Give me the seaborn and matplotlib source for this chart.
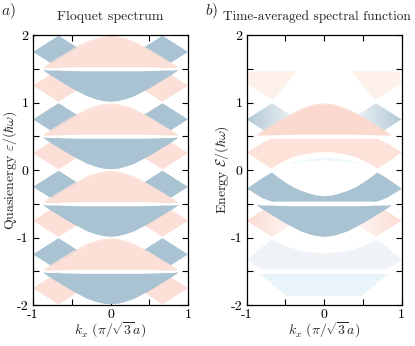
import numpy as np
import matplotlib.pyplot as plt
import seaborn as sns
from matplotlib.patches import Polygon
from matplotlib.colors import LinearSegmentedColormap

# ---- values (energies in units of hbar*omega) ----
# one Floquet replica: dome / bowl band, relative to the half-step energy
k_dome = [-0.86, -0.8, -0.7, -0.6, -0.5, -0.4, -0.3, -0.2, -0.1, 0.0,
          0.1, 0.2, 0.3, 0.4, 0.5, 0.6, 0.7, 0.8, 0.86]
dome_top = [0.02, 0.07, 0.14, 0.21, 0.28, 0.34, 0.40, 0.44, 0.47, 0.48,
            0.47, 0.44, 0.40, 0.34, 0.28, 0.21, 0.14, 0.07, 0.02]
dome_floor = [0.015, 0.018, 0.02, 0.024, 0.027, 0.03, 0.03, 0.03, 0.03, 0.03,
              0.03, 0.03, 0.03, 0.03, 0.027, 0.024, 0.02, 0.018, 0.015]
# diamond-shaped pieces near the Dirac points (left side, mirrored to the right)
diamond_k = [-1.0, -0.67, -0.34, -0.67]
diamond_e = [0.25, 0.49, 0.25, 0.01]
# half-step energies around which the replicas sit
half_steps = [1.5, 0.5, -0.5, -1.5]

# time-averaged spectral function (right panel)
k_r = [-1.0, -0.9, -0.8, -0.68, -0.6, -0.5, -0.4, -0.3, -0.2, -0.1, 0.0,
       0.1, 0.2, 0.3, 0.4, 0.5, 0.6, 0.68, 0.8, 0.9, 1.0]
cond_lo = [0.27, 0.19, 0.11, 0.03, 0.09, 0.15, 0.20, 0.23, 0.25, 0.27, 0.27,
           0.27, 0.25, 0.23, 0.20, 0.15, 0.09, 0.03, 0.11, 0.19, 0.27]
cond_hi = [0.27, 0.34, 0.41, 0.47, 0.47, 0.47, 0.47, 0.47, 0.47, 0.47, 0.47,
           0.47, 0.47, 0.47, 0.47, 0.47, 0.47, 0.47, 0.41, 0.34, 0.27]
val_hi = [-0.27, -0.19, -0.11, -0.03, -0.10, -0.18, -0.25, -0.30, -0.34, -0.37, -0.38,
          -0.37, -0.34, -0.30, -0.25, -0.18, -0.10, -0.03, -0.11, -0.19, -0.27]
val_lo = [-0.27, -0.34, -0.41, -0.46, -0.46, -0.46, -0.46, -0.46, -0.46, -0.46, -0.46,
          -0.46, -0.46, -0.46, -0.46, -0.46, -0.46, -0.46, -0.41, -0.34, -0.27]
low_hi = [-1.32, -1.23, -1.13, -1.03, -1.07, -1.12, -1.16, -1.19, -1.21, -1.22, -1.23,
          -1.22, -1.21, -1.19, -1.16, -1.12, -1.07, -1.03, -1.13, -1.23, -1.32]
low_lo = [-1.32, -1.40, -1.46, -1.47, -1.47, -1.47, -1.47, -1.47, -1.47, -1.47, -1.47,
          -1.47, -1.47, -1.47, -1.47, -1.47, -1.47, -1.47, -1.46, -1.40, -1.32]
arc_k = [-0.42, -0.3, -0.15, 0.0, 0.15, 0.3, 0.42]
arc_lo = [0.10, 0.12, 0.14, 0.15, 0.14, 0.12, 0.10]
arc_hi = [0.12, 0.15, 0.18, 0.19, 0.18, 0.15, 0.12]
trap_k = [-0.83, 0.83, 0.48, -0.48]
trap_e = [-1.54, -1.54, -1.87, -1.87]
faint_k = [-1.0, -0.97, -0.35, -0.66]
faint_e = [1.28, 1.46, 1.46, 1.03]

BLUE = '#a9c3d3'
PINK = '#fcdfd6'

sns.set_style('ticks')
plt.rcParams['font.family'] = ['cmr10', 'DejaVu Serif']
plt.rcParams['mathtext.fontset'] = 'cm'
plt.rcParams['axes.unicode_minus'] = False
plt.rcParams['axes.formatter.use_mathtext'] = True

fig = plt.figure(figsize=(4.15, 3.46), dpi=100)
ax1 = fig.add_axes([33 / 415, 41 / 346, 155 / 415, 270 / 346])
ax2 = fig.add_axes([246.5 / 415, 41 / 346, 155 / 415, 270 / 346])


def diamonds(ax, base, sign, color, alpha=1.0):
    for s in (-1, 1):
        ax.fill([s * k for k in diamond_k], [base + sign * e for e in diamond_e],
                color=color, lw=0, alpha=alpha)


def faded_diamonds(ax, base, sign, color):
    # diamonds whose weight fades from the zone edge towards the centre
    cmap = LinearSegmentedColormap.from_list('fade', ['white', color])
    for s in (-1, 1):
        xs = [s * k for k in diamond_k]
        ys = [base + sign * e for e in diamond_e]
        patch = Polygon(list(zip(xs, ys)), closed=True, transform=ax.transData)
        grad = np.linspace(0.15, 1.0, 64)[None, :] if s < 0 else np.linspace(1.0, 0.15, 64)[None, :]
        grad = grad[:, ::-1] if s < 0 else grad
        im = ax.imshow(grad if s > 0 else grad[:, ::-1], cmap=cmap, vmin=0, vmax=1,
                       extent=[min(xs), max(xs), min(ys), max(ys)], aspect='auto',
                       interpolation='bilinear', zorder=1)
        im.set_clip_path(patch)


def dome(ax, base, sign, color, alpha=1.0):
    lo = [base + sign * f for f in dome_floor]
    hi = [base + sign * t for t in dome_top]
    ax.fill_between(k_dome, lo, hi, color=color, lw=0, alpha=alpha, zorder=2)
    sns.lineplot(x=k_dome, y=hi, color=color, lw=0.6, alpha=alpha, ax=ax, zorder=2)


# ---- a) Floquet spectrum ----
for b in half_steps:
    diamonds(ax1, b, 1, BLUE)
    dome(ax1, b, 1, PINK)
    diamonds(ax1, b, -1, PINK)
    dome(ax1, b, -1, BLUE)

# ---- b) time-averaged spectral function ----
for s in (-1, 1):
    ax2.fill([s * k for k in faint_k], faint_e, color='#fdf1ea', lw=0)
faded_diamonds(ax2, 0.5, 1, '#b3c9d7')
dome(ax2, 0.5, 1, '#fbd9cf')
ax2.fill_between(k_r, cond_lo, cond_hi, color='#fde2da', lw=0, zorder=2)
ax2.fill_between(arc_k, arc_lo, arc_hi, color='#eef9fc', lw=0, zorder=2)
ax2.fill_between(k_r, val_lo, val_hi, color=BLUE, lw=0, zorder=2)
faded_diamonds(ax2, -0.5, -1, '#fcdcd3')
dome(ax2, -0.5, -1, BLUE)
ax2.fill_between(k_r, low_lo, low_hi, color='#eff2f6', lw=0, zorder=2)
ax2.fill(trap_k, trap_e, color='#e9f4fa', lw=0, zorder=2)

for ax in (ax1, ax2):
    ax.set_xlim(-1, 1)
    ax.set_ylim(-2, 2)
    ax.set_xticks([-1, -0.5, 0, 0.5, 1])
    ax.set_xticklabels(['-1', '', '0', '', '1'])
    ax.set_yticks([-2, -1.5, -1, -0.5, 0, 0.5, 1, 1.5, 2])
    ax.set_yticklabels(['-2', '', '-1', '', '0', '', '1', '', '2'])
    ax.tick_params(direction='in', top=True, right=True, length=4, width=0.8,
                   labelsize=10, pad=3, colors='black')
    for sp in ax.spines.values():
        sp.set_visible(True)
        sp.set_linewidth(0.9)
        sp.set_color('black')
        sp.set_zorder(5)
    ax.set_xlabel('')
    ax.set_ylabel('')

fig.text(110.5 / 415, 1 - 17 / 346, 'Floquet spectrum', ha='center', va='center', fontsize=10)
fig.text(223 / 415, 1 - 17 / 346, 'Time-averaged spectral function', ha='left', va='center', fontsize=9.6)
fig.text(0.002, 1 - 11 / 346, '$a)$', ha='left', va='center', fontsize=11)
fig.text(205 / 415, 1 - 11 / 346, '$b)$', ha='left', va='center', fontsize=11)
fig.text(10 / 415, 1 - 170 / 346, r'Quasienergy $\varepsilon/(\hbar\omega)$',
         rotation=90, ha='center', va='center', fontsize=10)
fig.text(222 / 415, 1 - 170 / 346, r'Energy $\mathcal{E}/(\hbar\omega)$',
         rotation=90, ha='center', va='center', fontsize=10)
fig.text(110.5 / 415, 1 - 330 / 346, r'$k_x\ (\pi/\sqrt{3}a)$', ha='center', va='center', fontsize=10)
fig.text(324 / 415, 1 - 330 / 346, r'$k_x\ (\pi/\sqrt{3}a)$', ha='center', va='center', fontsize=10)

fig.savefig('out.png', dpi=100)
